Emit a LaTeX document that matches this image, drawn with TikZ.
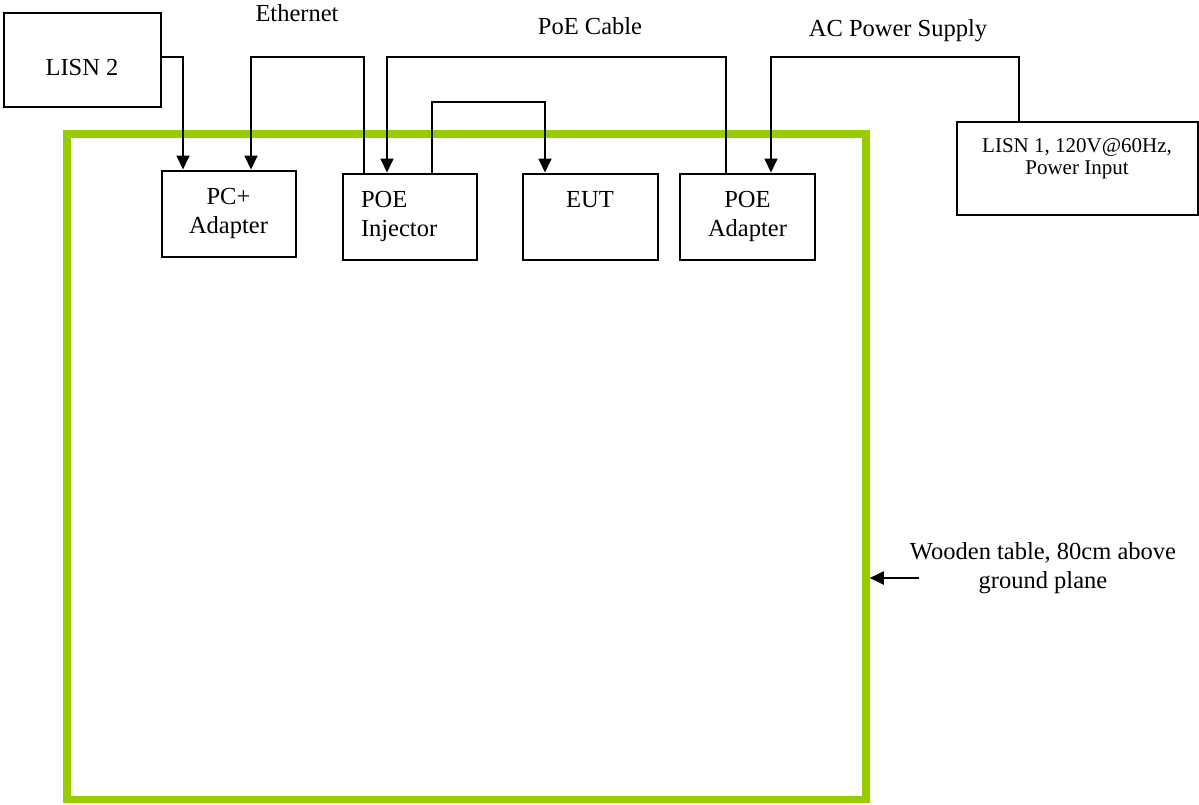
\documentclass[tikz,border=0pt]{standalone}
\usepackage{fontspec}
\setmainfont{Liberation Serif}
\usetikzlibrary{arrows.meta}
\definecolor{tablegreen}{HTML}{99CC00}
\begin{document}
\begin{tikzpicture}[x=0.5pt,y=-0.5pt,
  every node/.style={font=\fontsize{12.25pt}{14.5pt}\selectfont},
  box/.style={draw,line width=1pt,inner sep=0pt,align=center},
  conn/.style={line width=0.9pt},
  arr/.style={conn,-{Triangle[length=7pt,width=6.5pt]}},
  tbl/.style={draw=tablegreen,line width=3.75pt,inner sep=0pt}]
\useasboundingbox (0,0) rectangle (1199,804);
% table
\node[tbl, minimum width=399.5pt, minimum height=332.75pt] (table) at (466.5,466.75) {};
% boxes
\node[box, minimum width=78.5pt, minimum height=47pt, text height=15.5pt, text depth=0pt] (lisn2) at (82,59.5) {LISN 2};
\node[box, minimum width=67pt, minimum height=43pt] (pc) at (228.5,213.5) {PC+\\Adapter};
\node[box, minimum width=67pt, minimum height=43pt, align=left, text width=48.5pt] (inj) at (409.5,216.5) {POE\\Injector};
\node[box, minimum width=67.5pt, minimum height=43pt, text height=9pt, text depth=18.5pt] (eut) at (590,216.5) {EUT};
\node[box, minimum width=67.5pt, minimum height=43pt] (poea) at (747.5,216.5) {POE\\Adapter};
\node[box, minimum width=120.5pt, minimum height=46.5pt, font=\fontsize{10.5pt}{11pt}\selectfont, text height=18pt, text depth=12pt] (lisn1) at (1077,168) {LISN 1, 120V@60Hz,\\Power Input};
% labels
\node[anchor=base] (eth) at (297,21.5) {Ethernet};
\node[anchor=base] (poec) at (590,34) {PoE Cable};
\node[anchor=base] (acps) at (898,36.5) {AC Power Supply};
\node[anchor=base, align=center] (wood) at (1043,588) {Wooden table, 80cm above\\ground plane};
% connectors
\coordinate (b1) at (183,57);
\draw[arr] (lisn2.east |- b1) -- (b1) -- (b1 |- pc.north);
\coordinate (e1) at (364,57);
\coordinate (e2) at (251,57);
\draw[arr] (e1 |- inj.north) -- (e1) -- (e2) -- (e2 |- pc.north);
\coordinate (p1) at (726,57);
\coordinate (p2) at (387,57);
\draw[arr] (p1 |- poea.north) -- (p1) -- (p2) -- (p2 |- inj.north);
\coordinate (i1) at (432,102);
\coordinate (i2) at (545,102);
\draw[arr] (i1 |- inj.north) -- (i1) -- (i2) -- (i2 |- eut.north);
\coordinate (a1) at (1019,57);
\coordinate (a2) at (771,57);
\draw[arr] (a1 |- lisn1.north) -- (a1) -- (a2) -- (a2 |- poea.north);
\coordinate (tail) at (919,578);
\draw[arr] (tail) -- (table.east |- tail);
\end{tikzpicture}
\end{document}
